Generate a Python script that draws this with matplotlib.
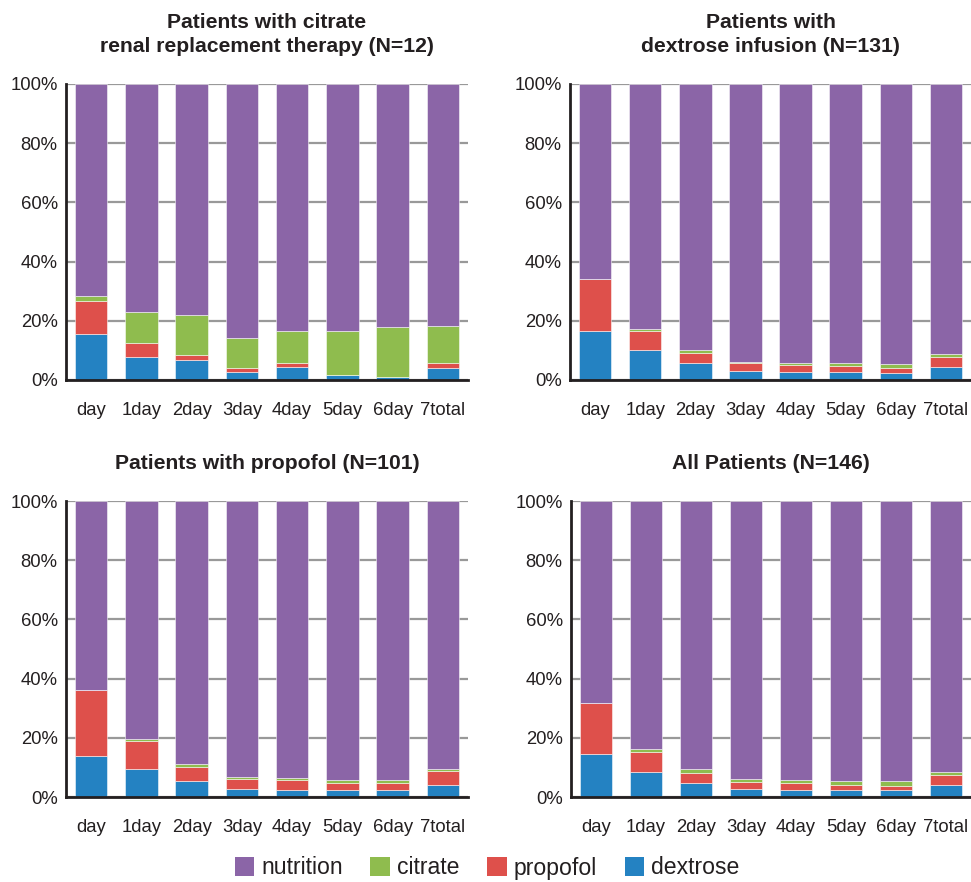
import matplotlib
matplotlib.use("Agg")
import matplotlib.pyplot as plt
import numpy as np
from matplotlib.patches import Patch
from matplotlib.ticker import FuncFormatter

plt.rcParams['font.family'] = ['Liberation Sans', 'DejaVu Sans']

categories = ["day", "1day", "2day", "3day", "4day", "5day", "6day", "7total"]

titles = [
    "Patients with citrate\nrenal replacement therapy (N=12)",
    "Patients with\ndextrose infusion (N=131)",
    "Patients with propofol (N=101)",
    "All Patients (N=146)",
]

# percentages per panel (dextrose, propofol, citrate); nutrition is the remainder
dextrose_citrate = [15.7, 7.7, 6.9, 2.7, 4.4, 1.6, 0.9, 4.2]
propofol_citrate = [11.1, 4.8, 1.7, 1.2, 1.2, 0.0, 0.0, 1.5]
citrate_citrate = [1.7, 10.6, 13.2, 10.3, 11.1, 14.8, 17.0, 12.7]

dextrose_dex = [16.7, 10.2, 5.7, 3.1, 2.8, 2.7, 2.5, 4.5]
propofol_dex = [17.4, 6.2, 3.5, 2.7, 2.3, 1.9, 1.6, 3.3]
citrate_dex = [0.0, 0.7, 0.9, 0.4, 0.7, 1.0, 1.2, 0.9]

dextrose_prop = [13.9, 9.3, 5.3, 2.8, 2.4, 2.4, 2.4, 4.1]
propofol_prop = [22.3, 9.7, 4.8, 3.2, 3.3, 2.3, 2.2, 4.7]
citrate_prop = [0.0, 0.6, 1.1, 0.6, 0.7, 1.2, 1.0, 0.8]

dextrose_all = [14.4, 8.6, 4.8, 2.7, 2.4, 2.4, 2.3, 4.0]
propofol_all = [17.4, 6.7, 3.4, 2.5, 2.4, 1.7, 1.4, 3.3]
citrate_all = [0.0, 0.8, 1.1, 0.9, 0.9, 1.3, 1.7, 1.1]

panels = [
    (dextrose_citrate, propofol_citrate, citrate_citrate),
    (dextrose_dex, propofol_dex, citrate_dex),
    (dextrose_prop, propofol_prop, citrate_prop),
    (dextrose_all, propofol_all, citrate_all),
]

colors = {
    "nutrition": "#8B65A7",
    "citrate": "#8FBC4E",
    "propofol": "#DE504B",
    "dextrose": "#2482C2",
}
text_color = '#231F20'

W, H = 971, 882
fig = plt.figure(figsize=(W / 100, H / 100), dpi=100)

boxes = [
    (66, 84, 468, 380),
    (570, 84, 971, 380),
    (66, 501, 468, 797),
    (571, 501, 971, 797),
]

for (x0, y0, x1, y1), title, (dex, prop, cit) in zip(boxes, titles, panels):
    ax = fig.add_axes([x0 / W, 1 - y1 / H, (x1 - x0) / W, (y1 - y0) / H])
    x = np.arange(len(categories))
    dex = np.array(dex)
    prop = np.array(prop)
    cit = np.array(cit)
    nut = 100 - dex - prop - cit
    kw = dict(width=0.65, edgecolor=(1, 1, 1, 0.6), linewidth=0.6, zorder=3)
    ax.bar(x, dex, color=colors["dextrose"], **kw)
    ax.bar(x, prop, bottom=dex, color=colors["propofol"], **kw)
    ax.bar(x, cit, bottom=dex + prop, color=colors["citrate"], **kw)
    ax.bar(x, nut, bottom=dex + prop + cit, color=colors["nutrition"], **kw)
    ax.set_xlim(-0.5, 7.5)
    ax.set_ylim(0, 100)
    ax.set_yticks(np.arange(0, 101, 20))
    ax.yaxis.set_major_formatter(FuncFormatter(lambda v, p: f"{int(v)}%"))
    ax.set_xticks(x)
    ax.set_xticklabels(categories)
    ax.tick_params(axis='both', length=0, labelsize=13.3, colors=text_color)
    ax.tick_params(axis='x', pad=16)
    ax.tick_params(axis='y', pad=6)
    ax.grid(axis='y', color='#999999', linewidth=1.6, zorder=1)
    for s in ['top', 'right']:
        ax.spines[s].set_visible(False)
    for s in ['left', 'bottom']:
        ax.spines[s].set_color(text_color)
        ax.spines[s].set_linewidth(2)
        ax.spines[s].set_zorder(4)
    ax.set_title(title, fontsize=15.2, fontweight='bold', color=text_color, pad=23, linespacing=1.35)

handles = [Patch(facecolor=colors[k], edgecolor='none') for k in ["nutrition", "citrate", "propofol", "dextrose"]]
fig.legend(handles, ["nutrition", "citrate", "propofol", "dextrose"], loc='center',
           bbox_to_anchor=(487 / W, 1 - 868 / H), ncol=4, frameon=False,
           fontsize=16.6, handlelength=0.85, handleheight=0.85, handletextpad=0.3,
           columnspacing=1.2, labelcolor=text_color, borderpad=0.2)

fig.savefig("out.png", dpi=100)
